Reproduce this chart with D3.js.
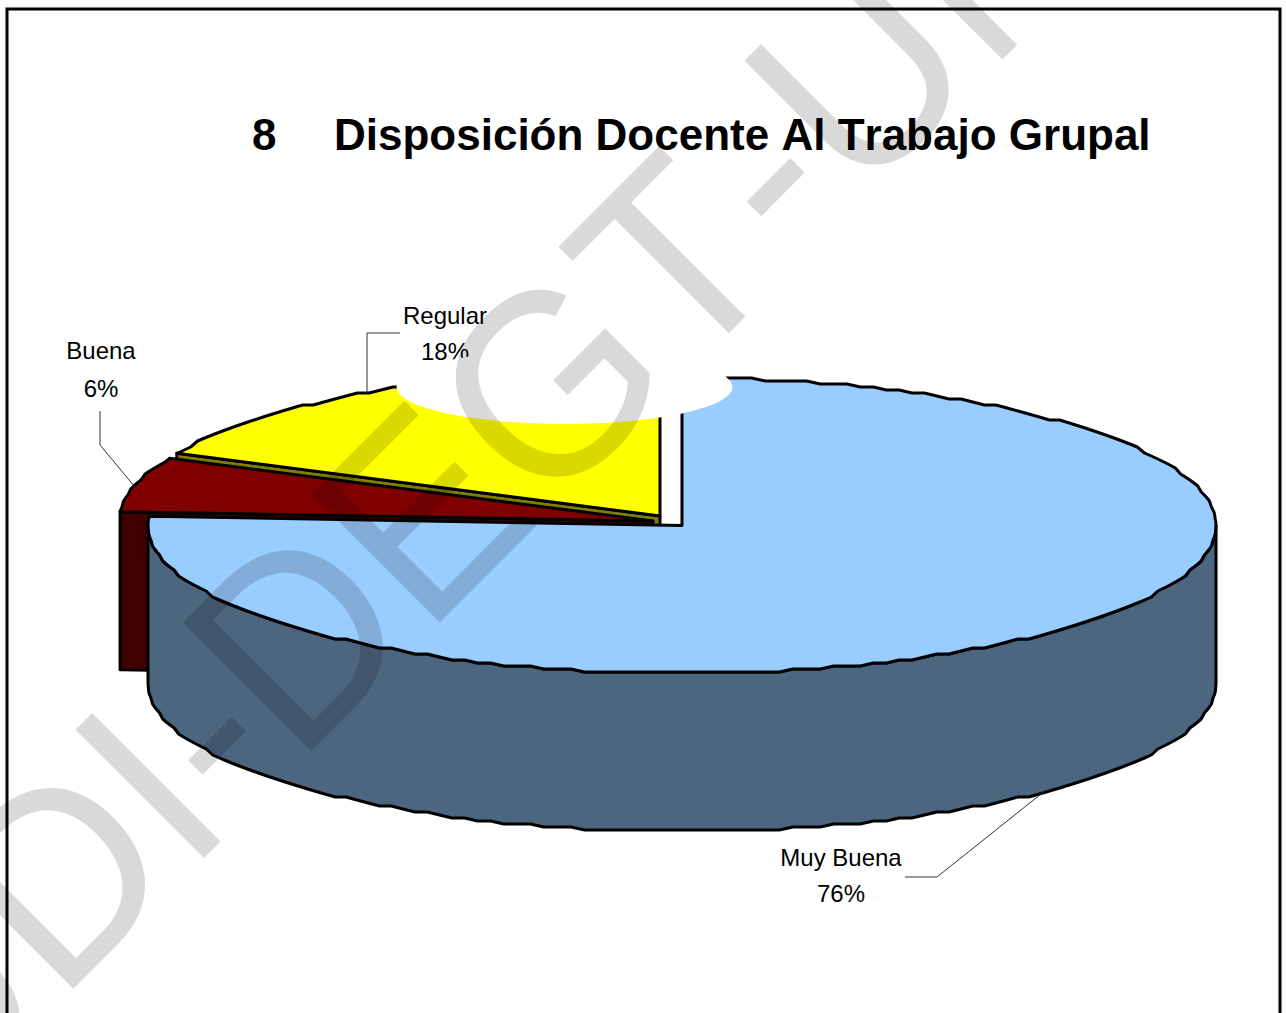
<!DOCTYPE html>
<html>
  <head>
    <meta charset="utf-8">
    <title></title>
  </head>
  <style>
  body{
      margin: 0;
      background: #fff;
      font-family: "Liberation Sans";
    }
  svg { display: block; font-kerning: none; }
  </style>
  <script src="https://d3js.org/d3.v7.min.js"></script>
  <body>
    <script>
    // data
    var categories = ["Muy Buena", "Buena", "Regular"]
    var values = [76, 6, 18]
    var faceColors = ["#99ccff", "#800000", "#ffff00"]
    var sideColors = ["#4d6680", "#400000", "#808000"]
    var titleNumber = "8"
    var titleText = "Disposición Docente Al Trabajo Grupal"
    var watermarkText = "UDI-DEGT-UNAH"

    var width = 1286, height = 1013
    var rx = 534, ry = 147.5, depth = 158
    var grid = 3            // the original outline is stepped, snap y to a coarse grid
    var angleStep = 1.5 * Math.PI / 180
    var strokeW = 3

    // each slice has its own centre because the pie is exploded
    var centers = [[682, 525.5], [653, 521], [660, 516]]

    var svg = d3.select("body").append("svg")
                .attr("width", width)
                .attr("height", height)

    // frame
    svg.append("rect")
       .attr("x", 7).attr("y", 9)
       .attr("width", 1273).attr("height", 1100)
       .attr("fill", "#fff")
       .attr("stroke", "#000")
       .attr("stroke-width", 3)

    // title
    var title = svg.append("g")
       .attr("font-size", 44)
       .attr("font-weight", "bold")
    title.append("text").attr("x", 252).attr("y", 150).text(titleNumber)
    title.append("text").attr("x", 334).attr("y", 150).text(titleText)

    var pie = d3.pie().sort(null).startAngle(0).endAngle(2 * Math.PI)
    var slices = pie(values)

    function px(c, a){ return c[0] + rx * Math.sin(a) }
    function py(c, a){ return c[1] - ry * Math.cos(a) }
    function snap(v){ return Math.round(v / grid) * grid }

    // points on the rim between two angles, on a fixed angle grid so that face and wall agree
    function rimPoints(c, a0, a1){
        var first = Math.ceil(a0 / angleStep + 0.001), last = Math.floor(a1 / angleStep - 0.001)
        var inner = d3.range(first, last + 1).map(function(k){
            var a = k * angleStep
            return [px(c, a), snap(py(c, a))]
        })
        return [[px(c, a0), py(c, a0)]].concat(inner, [[px(c, a1), py(c, a1)]])
    }

    function facePath(c, a0, a1){
        return d3.line()([[c[0], c[1]]].concat(rimPoints(c, a0, a1))) + "Z"
    }

    // rim of a slice between two angles, extruded down
    function rimPath(c, a0, a1){
        var top = rimPoints(c, a0, a1)
        var bottom = top.slice().reverse().map(function(p){ return [p[0], p[1] + depth] })
        return d3.line()(top.concat(bottom)) + "Z"
    }

    // radial cut face of a slice, extruded down
    function cutPath(c, a){
        return d3.line()([
            [c[0], c[1]], [px(c, a), py(c, a)],
            [px(c, a), py(c, a) + depth], [c[0], c[1] + depth]
        ]) + "Z"
    }

    function drawSlice(i, cutAngle){
        var s = slices[i], c = centers[i]
        var g = svg.append("g")
                   .attr("stroke", "#000")
                   .attr("stroke-width", strokeW)
                   .attr("stroke-linejoin", "round")
        if (cutAngle !== null) {
            g.append("path")
             .attr("d", cutPath(c, cutAngle))
             .attr("fill", sideColors[i])
        }
        var a0 = Math.max(s.startAngle, Math.PI / 2)
        var a1 = Math.min(s.endAngle, 1.5 * Math.PI)
        if (a1 > a0) {
            g.append("path")
             .attr("d", rimPath(c, a0, a1))
             .attr("fill", sideColors[i])
        }
        g.append("path")
         .attr("d", facePath(c, s.startAngle, s.endAngle))
         .attr("fill", faceColors[i])
    }

    // back to front: Regular, Buena, Muy Buena
    drawSlice(2, slices[2].startAngle)
    drawSlice(1, slices[1].startAngle)
    drawSlice(0, null)

    // leader lines
    var leaders = [
        [[1046, 790], [937, 877], [905, 877]],
        [[135, 487], [100, 445], [100, 411]],
        [[367, 393], [367, 333], [400, 333]]
    ]
    svg.append("g").selectAll("path")
       .data(leaders).enter().append("path")
       .attr("d", d3.line())
       .attr("fill", "none")
       .attr("stroke", "#333")
       .attr("stroke-width", 1)

    // labels
    var labelX = [841, 101, 445]
    var nameY = [866, 359, 324]
    var pctY = [902, 397, 360]
    var labels = svg.append("g")
                    .attr("font-size", 24)
                    .attr("text-anchor", "middle")
                    .attr("fill", "#000")
    categories.forEach(function(name, i){
        labels.append("text").attr("x", labelX[i]).attr("y", nameY[i]).text(name)
        labels.append("text").attr("x", labelX[i]).attr("y", pctY[i]).text(values[i] + "%")
    })

    // white blot over the top of the pie
    svg.append("ellipse")
       .attr("cx", 564.5).attr("cy", 387)
       .attr("rx", 168).attr("ry", 37)
       .attr("fill", "#fff")

    // watermark, the hyphen and the U after it sit a little further along
    svg.append("text")
       .attr("transform", "translate(-70,1132) rotate(-45) scale(0.955,1)")
       .attr("font-size", 264)
       .attr("dx", "0 0 0 0 0 0 0 0 6 6")
       .attr("fill", "#000")
       .attr("fill-opacity", 0.15)
       .text(watermarkText)
    </script>
  </body>
</html>
